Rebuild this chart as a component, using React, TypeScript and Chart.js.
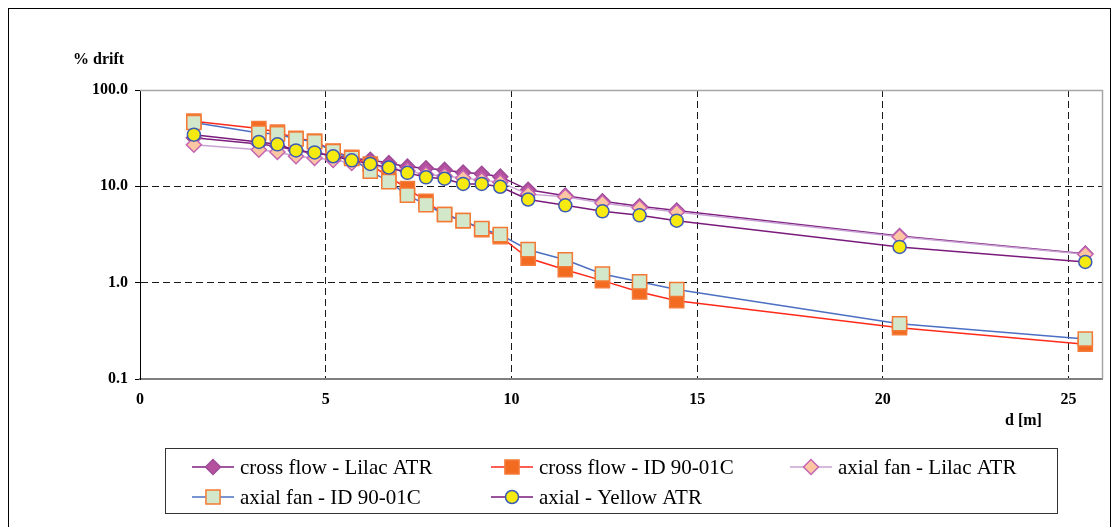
import React, { useEffect, useRef } from 'react';
import { Chart, registerables } from 'chart.js';

Chart.register(...registerables);

// ---- data ----
const distances = [1.45, 3.2, 3.7, 4.2, 4.7, 5.2, 5.7, 6.2, 6.7, 7.2, 7.7, 8.2, 8.7, 9.2, 9.7, 10.45, 11.45, 12.45, 13.45, 14.45, 20.45, 25.45];
const crossFlowLilac = [32, 27.5, 26, 23.5, 22, 21, 19.5, 18.9, 17.4, 16.0, 15.4, 14.8, 13.9, 13.5, 12.6, 9.2, 8.0, 7.0, 6.2, 5.6, 3.05, 2.0];
const crossFlowID = [47.5, 39.8, 36.5, 31.5, 29.5, 23.2, 20, 17, 12.5, 9.5, 7.0, 5.1, 4.4, 3.55, 3.0, 1.8, 1.36, 1.05, 0.8, 0.65, 0.34, 0.23];
const axialFanLilac = [27, 24, 22.7, 20.5, 19.7, 18.8, 17.5, 16.5, 15.5, 14.5, 13.3, 12.8, 12.2, 11.6, 11.0, 8.3, 7.8, 6.7, 6.0, 5.4, 3.0, 1.97];
const axialFanID = [46, 35.8, 35, 31, 29, 23, 19.5, 14.4, 11.2, 8.1, 6.45, 5.1, 4.4, 3.64, 3.15, 2.2, 1.73, 1.23, 1.02, 0.85, 0.375, 0.26];
const axialYellow = [34.4, 28.9, 27.3, 23.6, 22.5, 20.5, 18.6, 17.1, 15.7, 13.8, 12.4, 12.0, 10.6, 10.6, 9.9, 7.3, 6.35, 5.5, 5.0, 4.4, 2.35, 1.64];

const seriesLabels = [
  'cross flow - Lilac ATR',
  'cross flow - ID 90-01C',
  'axial fan - Lilac ATR',
  'axial fan - ID 90-01C',
  'axial - Yellow ATR',
];
const xTicks = [0, 5, 10, 15, 20, 25];
const yTicks = [0.1, 1, 10, 100];
const yAxisTitle = '% drift';
const xAxisTitle = 'd [m]';

const styles = [
  { line: '#7E2080', fill: '#B5519F', stroke: '#9E4A98', shape: 'rectRot', r: 7.5 },
  { line: '#FF2A1A', fill: '#F26B21', stroke: '#F47C3C', shape: 'rect', r: 10 },
  { line: '#C9A3D3', fill: '#FCC6A2', stroke: '#C463B3', shape: 'rectRot', r: 7.5 },
  { line: '#4C6FC4', fill: '#D3E8CB', stroke: '#F37A34', shape: 'rect', r: 10 },
  { line: '#7A1A7C', fill: '#F6EA10', stroke: '#3C5BB5', shape: 'circle', r: 6.5 },
];

const allSeries = [crossFlowLilac, crossFlowID, axialFanLilac, axialFanID, axialYellow];

const SERIF = '"Liberation Serif", "Times New Roman", serif';

function drawMarker(ctx: CanvasRenderingContext2D, shape: string, x: number, y: number, r: number) {
  ctx.beginPath();
  if (shape === 'circle') {
    ctx.arc(x, y, r, 0, Math.PI * 2);
  } else if (shape === 'rect') {
    const s = Math.SQRT1_2 * r;
    ctx.rect(x - s, y - s, 2 * s, 2 * s);
  } else {
    ctx.moveTo(x - r, y);
    ctx.lineTo(x, y - r);
    ctx.lineTo(x + r, y);
    ctx.lineTo(x, y + r);
    ctx.closePath();
  }
  ctx.fill();
  ctx.stroke();
}

const decorPlugin = {
  id: 'decor',
  beforeDraw(chart: any) {
    const ctx = chart.ctx;
    ctx.save();
    ctx.fillStyle = '#fff';
    ctx.fillRect(0, 0, chart.width, chart.height);
    ctx.strokeStyle = '#000';
    ctx.lineWidth = 1;
    ctx.strokeRect(8.5, 8.5, 1102, 600);
    ctx.restore();
  },
  beforeDatasetsDraw(chart: any) {
    const ctx = chart.ctx;
    const a = chart.chartArea;
    ctx.save();
    ctx.strokeStyle = '#a6a6a6';
    ctx.lineWidth = 1.5;
    ctx.beginPath();
    ctx.moveTo(a.left, a.top + 0.5);
    ctx.lineTo(a.right + 0.5, a.top + 0.5);
    ctx.lineTo(a.right + 0.5, a.bottom);
    ctx.stroke();
    ctx.restore();
  },
  afterDraw(chart: any) {
    const ctx = chart.ctx;
    ctx.save();
    // axis titles
    ctx.fillStyle = '#000';
    ctx.font = `bold 16px ${SERIF}`;
    ctx.textBaseline = 'middle';
    ctx.textAlign = 'left';
    ctx.fillText(yAxisTitle, 73, 60);
    ctx.fillText(xAxisTitle, 1005, 421);

    // legend
    ctx.strokeStyle = '#333';
    ctx.lineWidth = 1;
    ctx.strokeRect(165.5, 448.5, 892, 65);
    const colX = [192, 491, 790];
    const rowY = [467, 497];
    ctx.font = `21px ${SERIF}`;
    seriesLabels.forEach((label, i) => {
      const st = styles[i];
      const x = colX[i % 3];
      const y = rowY[Math.floor(i / 3)];
      ctx.strokeStyle = st.line;
      ctx.lineWidth = 1.5;
      ctx.beginPath();
      ctx.moveTo(x, y);
      ctx.lineTo(x + 42, y);
      ctx.stroke();
      ctx.fillStyle = st.fill;
      ctx.strokeStyle = st.stroke;
      ctx.lineWidth = 1.5;
      drawMarker(ctx, st.shape, x + 21, y, st.r);
      ctx.fillStyle = '#000';
      ctx.textBaseline = 'middle';
      ctx.fillText(label, x + 48, y + 1);
    });
    ctx.restore();
  },
};

export default function App() {
  const ref = useRef<HTMLCanvasElement | null>(null);

  useEffect(() => {
    if (!ref.current) return;
    const datasets = allSeries.map((vals, i) => ({
      label: seriesLabels[i],
      data: distances.map((d, j) => ({ x: d, y: vals[j] })),
      borderColor: styles[i].line,
      borderWidth: 1.5,
      backgroundColor: styles[i].fill,
      pointBackgroundColor: styles[i].fill,
      pointBorderColor: styles[i].stroke,
      pointBorderWidth: 1.5,
      pointStyle: styles[i].shape,
      pointRadius: styles[i].r,
      pointHoverRadius: styles[i].r,
      showLine: true,
      fill: false,
      tension: 0,
      order: 5 - i,
    }));

    const tickFont = { family: SERIF, size: 16, weight: 'bold' as const };
    const chart = new Chart(ref.current, {
      type: 'line',
      data: { datasets },
      plugins: [decorPlugin],
      options: {
        responsive: false,
        devicePixelRatio: 1,
        animation: false,
        events: [],
        layout: { padding: { left: 0, top: 90, right: 15, bottom: 0 } },
        plugins: {
          legend: { display: false },
          title: { display: false },
          tooltip: { enabled: false },
        },
        scales: {
          x: {
            type: 'linear',
            min: 0,
            max: 25.9,
            afterBuildTicks: (s: any) => {
              s.ticks = xTicks.map((v) => ({ value: v }));
            },
            afterFit: (s: any) => {
              s.height = 148;
            },
            grid: {
              color: (c: any) => (c.tick && c.tick.value === 0 ? 'rgba(0,0,0,0)' : '#1a1a1a'),
              lineWidth: 1,
              drawTicks: false,
              borderDash: [7, 4],
            } as any,
            border: { display: true, color: '#7f7f7f', width: 2, dash: [7, 4] },
            ticks: {
              padding: 11,
              color: '#000',
              font: tickFont,
              maxRotation: 0,
              autoSkip: false,
              callback: (v: any) => String(v),
            },
          },
          y: {
            type: 'logarithmic',
            min: 0.1,
            max: 100,
            afterBuildTicks: (s: any) => {
              s.ticks = yTicks.map((v) => ({ value: v, major: true }));
            },
            afterFit: (s: any) => {
              s.width = 140;
            },
            grid: {
              color: (c: any) =>
                c.tick && (c.tick.value === 0.1 || c.tick.value === 100) ? 'rgba(0,0,0,0)' : '#1a1a1a',
              lineWidth: 1,
              drawTicks: true,
              tickLength: 5,
              tickColor: '#000',
              tickWidth: 1,
              borderDash: [7, 4],
            } as any,
            border: { display: true, color: '#000', width: 1, dash: [7, 4] },
            ticks: {
              padding: 7,
              color: '#000',
              font: tickFont,
              autoSkip: false,
              callback: (v: any) => (Number(v) >= 1 ? Number(v).toFixed(1) : String(v)),
            },
          },
        },
      } as any,
    });
    return () => chart.destroy();
  }, []);

  return (
    <div style={{ position: 'absolute', left: 0, top: 0, width: 1117, height: 527 }}>
      <canvas ref={ref} width={1117} height={527} style={{ display: 'block' }} />
    </div>
  );
}
